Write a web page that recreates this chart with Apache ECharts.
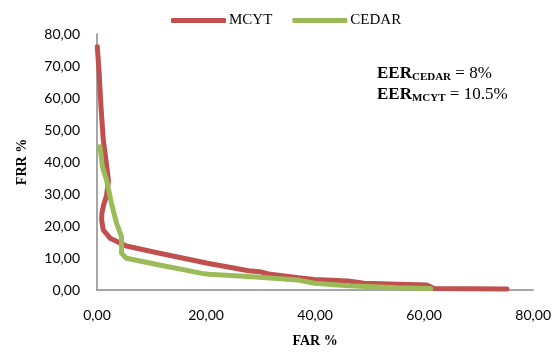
<!DOCTYPE html>
<html>
<head>
<meta charset="utf-8">
<script src="https://cdn.jsdelivr.net/npm/echarts@6/dist/echarts.min.js"></script>
<style>
  html, body { margin: 0; padding: 0; background: #fff; }
  #chart { width: 554px; height: 354px; }
</style>
</head>
<body>
<div id="chart"></div>
<script>
// MCYT curve (FAR %, FRR %)
var mcytFar = [0.05, 0.4, 0.73, 1.15, 1.8, 2.1, 1.75, 1.2, 0.9, 0.85, 1.15, 2.4, 5.4, 11.45, 20.5, 27.8, 30.2, 31.45, 36.9, 39.9, 46, 49, 55.1, 60.5, 61.8, 68, 75.2];
var mcytFrr = [76, 67.7, 57.3, 46.9, 38.5, 34, 29.5, 26.5, 24, 21.9, 18.75, 16.2, 13.75, 11.5, 8.3, 6.0, 5.6, 5.0, 3.8, 3.3, 2.8, 2.1, 1.8, 1.6, 0.5, 0.4, 0.3];
// CEDAR curve
var cedarFar = [0.55, 1.0, 1.75, 2.65, 3.6, 4.5, 4.5, 5.4, 11.45, 19.3, 20.5, 27.8, 36.9, 39.9, 46, 55.1, 61.2];
var cedarFrr = [44.8, 38.5, 34.4, 27.1, 20.8, 16.7, 11.5, 9.9, 7.8, 5.2, 4.9, 4.2, 3.1, 2.1, 1.35, 0.7, 0.5];
var xTicks = [0, 20, 40, 60, 80];
var yTicks = [0, 10, 20, 30, 40, 50, 60, 70, 80];

function pairs(xs, ys) {
  return xs.map(function (x, i) { return [x, ys[i]]; });
}
function fmt(v) {
  return v.toFixed(2).replace(".", ",");
}

var chart = echarts.init(document.getElementById("chart"));
var serif = "Liberation Serif";
var option = {
  animation: false,
  color: ["#C0504D", "#9BBB59"],
  legend: {
    left: 166,
    top: 8,
    icon: "roundRect",
    itemWidth: 55,
    itemHeight: 5,
    itemGap: 20,
    textStyle: { fontFamily: serif, fontSize: 15, color: "#000", padding: [0, 0, 0, -2] },
    data: ["MCYT", "CEDAR"]
  },
  grid: { left: 97, right: 17, top: 34, bottom: 64 },
  xAxis: {
    type: "value",
    min: xTicks[0],
    max: xTicks[xTicks.length - 1],
    interval: 20,
    name: "FAR %",
    nameLocation: "middle",
    nameGap: 44,
    nameTextStyle: { fontFamily: serif, fontSize: 14, fontWeight: "bold", color: "#000" },
    axisLine: { lineStyle: { color: "#888", width: 1.5 } },
    axisTick: { show: false },
    splitLine: { show: false },
    axisLabel: { formatter: fmt, fontFamily: "Lato", fontSize: 14, color: "#000", margin: 18 }
  },
  yAxis: {
    type: "value",
    min: yTicks[0],
    max: yTicks[yTicks.length - 1],
    interval: 10,
    name: "FRR %",
    nameLocation: "middle",
    nameGap: 68,
    nameTextStyle: { fontFamily: serif, fontSize: 14, fontWeight: "bold", color: "#000" },
    axisLine: { show: true, lineStyle: { color: "#888", width: 1.5 } },
    axisTick: { show: false },
    splitLine: { show: false },
    axisLabel: { formatter: fmt, fontFamily: "Lato", fontSize: 14, color: "#000", margin: 17 }
  },
  graphic: [{
    type: "text",
    left: 377,
    top: 64,
    style: {
      fontFamily: serif,
      text: "{b|EER}{s|CEDAR}{n| = 8%}\n{b|EER}{s|MCYT}{n| = 10.5%}",
      rich: {
        b: { fontFamily: serif, fontWeight: "bold", fontSize: 17, color: "#000", lineHeight: 21 },
        s: { fontFamily: serif, fontWeight: "bold", fontSize: 11, color: "#000", padding: [8, 0, 0, 0], lineHeight: 21 },
        n: { fontFamily: serif, fontSize: 17, color: "#000", lineHeight: 21 }
      }
    }
  }],
  series: [
    {
      name: "MCYT",
      type: "line",
      showSymbol: false,
      symbol: "none",
      lineStyle: { width: 5, cap: "round", join: "round" },
      data: pairs(mcytFar, mcytFrr)
    },
    {
      name: "CEDAR",
      type: "line",
      showSymbol: false,
      symbol: "none",
      lineStyle: { width: 5, cap: "round", join: "round" },
      data: pairs(cedarFar, cedarFrr)
    }
  ]
};
chart.setOption(option);
</script>
</body>
</html>
